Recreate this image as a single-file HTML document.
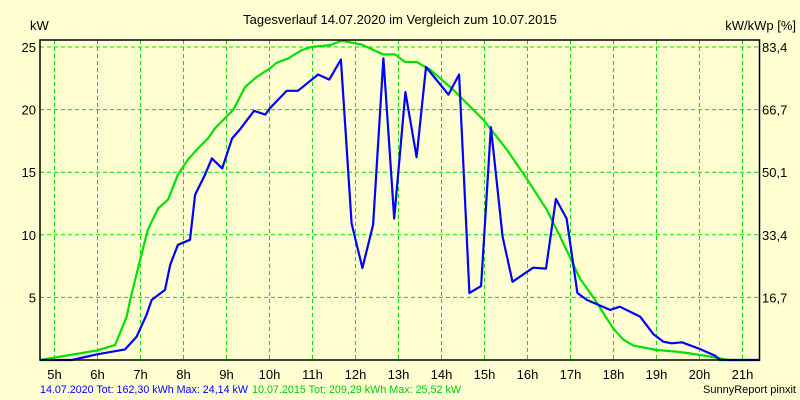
<!DOCTYPE html>
<html><head><meta charset="utf-8"><style>
html,body{margin:0;padding:0;background:#FFFFD2;}
svg{display:block;font-family:"Liberation Sans",sans-serif;}
</style></head><body>
<svg id="chart" width="800" height="400" viewBox="0 0 800 400">
<rect x="0" y="0" width="800" height="400" fill="#FFFFD2"/>
<text x="400" y="24" text-anchor="middle" font-size="13" fill="#000">Tagesverlauf 14.07.2020 im Vergleich zum 10.07.2015</text>
<text x="30" y="30" font-size="13" fill="#000">kW</text>
<text x="796" y="30" text-anchor="end" font-size="13" fill="#000">kW/kWp [%]</text>
<g id="grid"></g>
<g id="series"></g>
<rect x="40" y="40" width="719.5" height="320" fill="none" stroke="#000" stroke-width="1.5"/>
<g id="labels"></g>
<text x="40" y="393" font-size="11" fill="#0000FF" textLength="208" lengthAdjust="spacingAndGlyphs">14.07.2020 Tot: 162,30 kWh Max: 24,14 kW</text>
<text x="252" y="393" font-size="11" fill="#00CC00" textLength="209" lengthAdjust="spacingAndGlyphs">10.07.2015 Tot: 209,29 kWh Max: 25,52 kW</text>
<text x="796" y="393" text-anchor="end" font-size="11" fill="#000">SunnyReport pinxit</text>
</svg>
<script>
const hourTicks=[5,6,7,8,9,10,11,12,13,14,15,16,17,18,19,20,21];
const kwTicks=[5,10,15,20,25];
const pctLabels=["16,7","33,4","50,1","66,7","83,4"];
const blueHours=[4.66,4.9,5.4,5.98,6.64,6.91,7.14,7.26,7.57,7.69,7.87,8.15,8.27,8.5,8.66,8.9,9.13,9.31,9.64,9.9,10.01,10.4,10.66,11.13,11.39,11.66,11.91,12.16,12.41,12.65,12.9,13.16,13.42,13.64,14.16,14.41,14.65,14.92,15.15,15.42,15.65,16.13,16.43,16.66,16.91,17.16,17.38,17.92,18.15,18.62,18.93,19.16,19.35,19.59,20.01,20.36,20.48,21.41];
const blueKw=[0,0,0,0.45,0.85,1.86,3.6,4.8,5.6,7.6,9.2,9.6,13.2,14.8,16.1,15.3,17.7,18.4,19.9,19.6,20.1,21.5,21.5,22.8,22.4,24.0,10.9,7.35,10.8,24.1,11.3,21.4,16.2,23.4,21.2,22.8,5.35,5.9,18.6,9.85,6.25,7.37,7.3,12.86,11.3,5.35,4.8,4.0,4.26,3.46,2.05,1.46,1.33,1.41,0.88,0.35,0,0];
const greenHours=[4.66,5.01,5.98,6.41,6.68,6.76,6.99,7.17,7.41,7.64,7.87,8.1,8.34,8.57,8.73,9.16,9.43,9.7,10.01,10.17,10.44,10.75,10.98,11.41,11.68,12.14,12.65,12.92,13.15,13.42,13.73,14.27,14.97,15.52,15.98,16.45,16.76,17.22,17.57,17.99,18.22,18.46,19.0,19.47,19.78,20.17,20.67,21.17];
const greenKw=[0,0.2,0.75,1.2,3.46,4.8,8.0,10.4,12.1,12.8,14.8,16.0,16.9,17.7,18.5,20.0,21.8,22.6,23.3,23.75,24.1,24.75,25.0,25.15,25.5,25.2,24.4,24.4,23.8,23.8,23.2,21.6,19.2,16.8,14.5,12.0,9.85,6.5,4.8,2.53,1.65,1.15,0.8,0.66,0.53,0.32,0,0];

const NS="http://www.w3.org/2000/svg";
function xs(h){return 54.5+(h-5)*43;}
function ys(k){return 360-k*12.52;}
const grid=document.getElementById('grid'),labels=document.getElementById('labels'),series=document.getElementById('series');
function mk(tag,attrs,parent){const e=document.createElementNS(NS,tag);for(const k in attrs)e.setAttribute(k,attrs[k]);parent.appendChild(e);return e;}
hourTicks.forEach(h=>{
  const l=mk('line',{x1:xs(h),x2:xs(h),y1:40,y2:360,stroke:'#00E000','stroke-width':1,'stroke-dasharray':'4,3'},grid);
  
  
  const t=mk('text',{x:xs(h),y:379,'text-anchor':'middle','font-size':13,fill:'#000'},labels);
  t.textContent=h+'h';
  
  
});
kwTicks.forEach((k,i)=>{
  const l=mk('line',{x1:40,x2:760,y1:ys(k),y2:ys(k),stroke:'#00E000','stroke-width':1,'stroke-dasharray':'4,3'},grid);
  
  
  const t=mk('text',{x:36,y:ys(k)+5,'text-anchor':'end','font-size':13,fill:'#000'},labels);
  t.textContent=k;
  
  
  const r=mk('text',{x:762,y:ys(k)+5,'font-size':13,fill:'#000'},labels);
  r.textContent=pctLabels[i];
  
  
});
function line(hs,ks,color,name){
  const p=hs.map((h,i)=>xs(h).toFixed(1)+','+ys(ks[i]).toFixed(1)).join(' ');
  const pl=mk('polyline',{points:p,fill:'none',stroke:color,'stroke-width':2.2,'stroke-linejoin':'round'},series);
  
  
}
line(greenHours,greenKw,'#00E000','line-2015');
line(blueHours,blueKw,'#0000FF','line-2020');
</script>
</body></html>
